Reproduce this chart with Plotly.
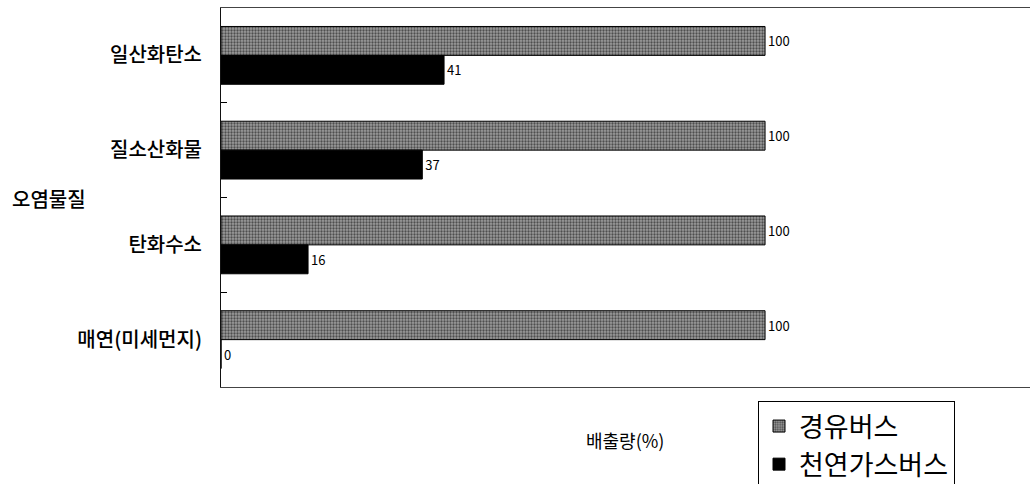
import plotly.graph_objects as go

categories = ["일산화탄소", "질소산화물", "탄화수소", "매연(미세먼지)"]
diesel_bus = [100, 100, 100, 100]
cng_bus = [41, 37, 16, 0]
series_names = ["경유버스", "천연가스버스"]
axis_title_y = "오염물질"
axis_title_x = "배출량(%)"

FONT = "Noto Sans CJK KR, Noto Sans, sans-serif"

fig = go.Figure()
fig.add_trace(go.Bar(
    y=categories, x=diesel_bus, orientation="h", name=series_names[0],
    legendgroup="a",
    marker=dict(color="#808080", line=dict(color="#000000", width=1),
                pattern=dict(shape=".", bgcolor="#9c9c9c", fgcolor="#000000",
                             size=3, solidity=0.45, fillmode="overlay")),
    text=diesel_bus, texttemplate="%{x}", textposition="outside",
    textfont=dict(size=13, color="#000000", family=FONT), cliponaxis=False,
))
fig.add_trace(go.Bar(
    y=categories, x=cng_bus, orientation="h", name=series_names[1],
    legendgroup="b",
    marker=dict(color="#000000", line=dict(color="#000000", width=1)),
    text=cng_bus, texttemplate="%{x}", textposition="outside",
    textfont=dict(size=13, color="#000000", family=FONT), cliponaxis=False,
))

L, R, T, B = 221, 0, 8, 97
W, H = 1030, 484
pw, ph = W - L - R, H - T - B

fig.update_layout(
    width=W, height=H,
    margin=dict(l=L, r=R, t=T, b=B, pad=0, autoexpand=False),
    paper_bgcolor="white", plot_bgcolor="white",
    barmode="group", bargap=0.39, bargroupgap=0,
    font=dict(family=FONT, color="#000000"),
    showlegend=True,
    legend=dict(
        x=(758 - L) / pw, y=(T + ph - 401) / ph, xanchor="left", yanchor="top",
        font=dict(size=27, family=FONT, color="#000000"),
        bordercolor="#000000", borderwidth=1, bgcolor="white",
        tracegroupgap=6, traceorder="normal",
    ),
    xaxis=dict(range=[0, 148.7], showticklabels=False, showgrid=False, zeroline=False,
               showline=True, mirror=True, linecolor="#444444", linewidth=1, ticks=""),
    yaxis=dict(autorange="reversed", showgrid=False, zeroline=False,
               showline=True, mirror=False, linecolor="#111111", linewidth=1,
               ticks="inside", ticklen=6, tickcolor="#000000", tickson="boundaries",
               tickfont=dict(size=20, family=FONT, color="#000000", weight=500),
               ticklabelstandoff=14),
    annotations=[
        dict(text=axis_title_y, xref="paper", yref="paper",
             x=-(L - 10) / pw, y=(T + ph - 198) / ph, xanchor="left", yanchor="middle",
             showarrow=False, font=dict(size=20, family=FONT, color="#000000", weight=500)),
        dict(text=axis_title_x, xref="paper", yref="paper",
             x=(625 - L) / pw, y=(T + ph - 440) / ph, xanchor="center", yanchor="middle",
             showarrow=False, font=dict(size=18, family=FONT, color="#000000")),
    ],
)

fig.write_html("out.html")
